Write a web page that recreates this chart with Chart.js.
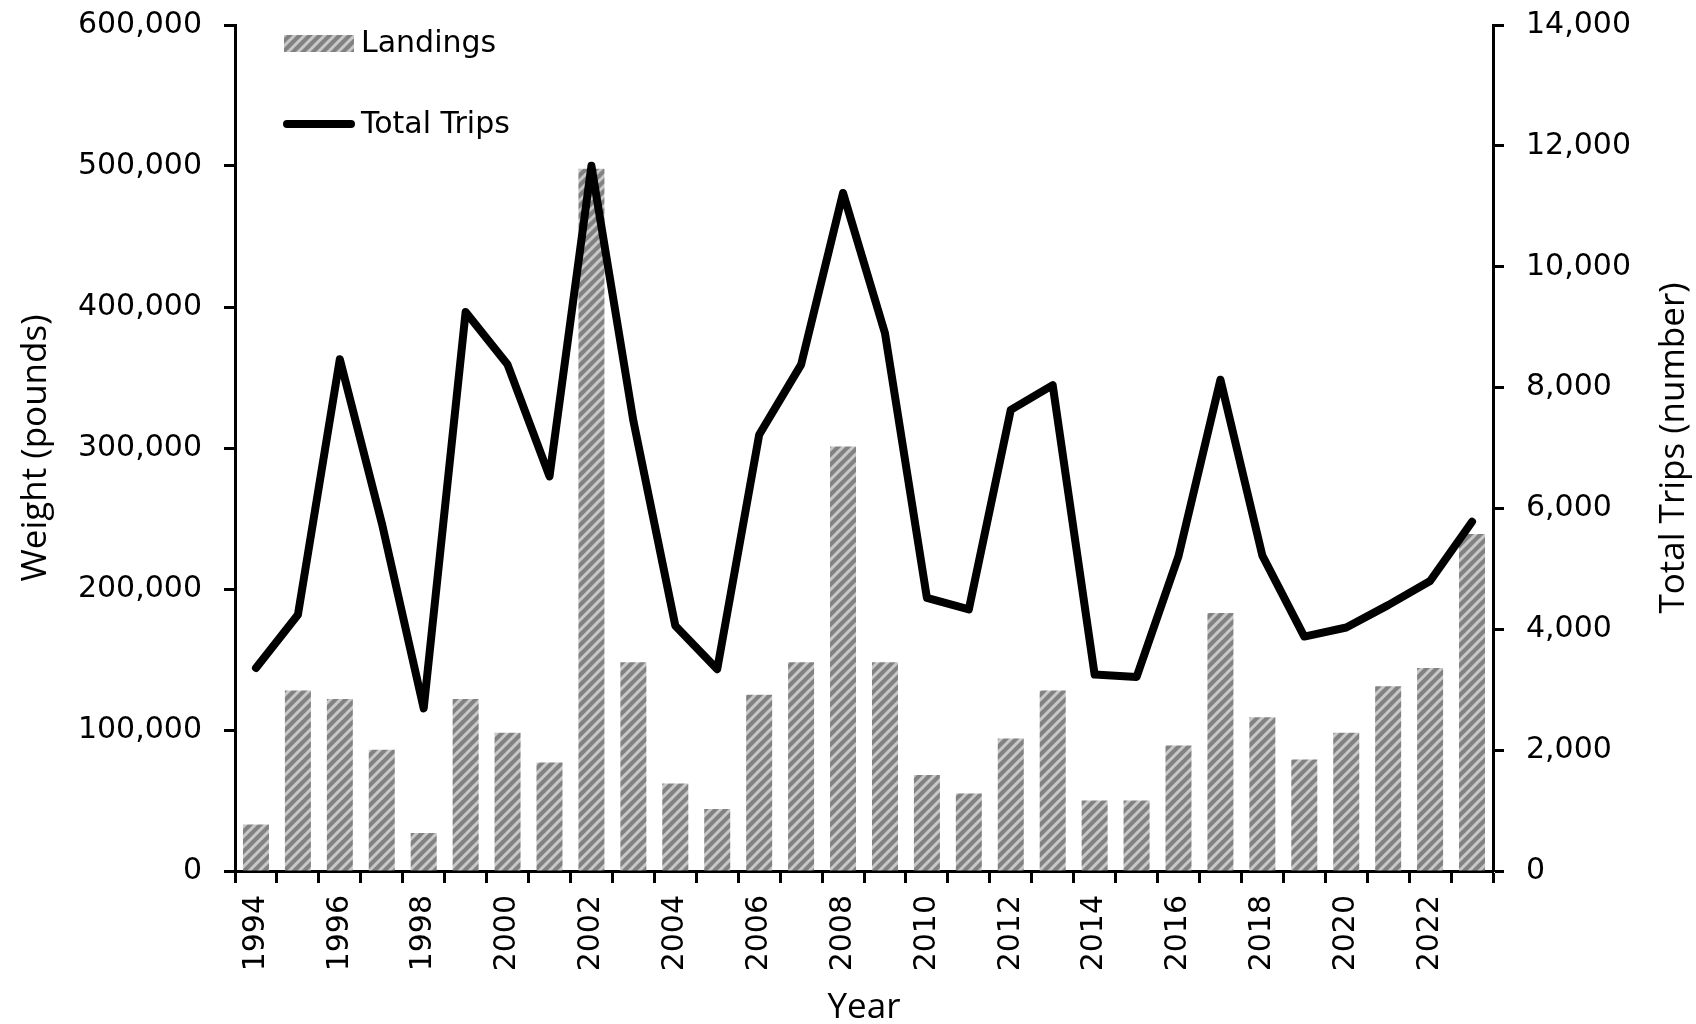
<!DOCTYPE html>
<html>
<head>
<meta charset="utf-8">
<script src="https://cdn.jsdelivr.net/npm/chart.js@4.4.1/dist/chart.umd.min.js"></script>
<style>
  html, body { margin: 0; padding: 0; background: #fff; }
</style>
</head>
<body>
<canvas id="chart" width="1696" height="1024"></canvas>
<script>
// Data
const years = ['1994','1995','1996','1997','1998','1999','2000','2001','2002','2003',
               '2004','2005','2006','2007','2008','2009','2010','2011','2012','2013',
               '2014','2015','2016','2017','2018','2019','2020','2021','2022','2023'];
const landings = [33000,128000,122000,86000,27000,122000,98000,77000,498000,148000,
                  62000,44000,125000,148000,301000,148000,68000,55000,94000,128000,
                  50000,50000,89000,183000,109000,79000,98000,131000,144000,239000];
const totalTrips = [3360,4240,8470,5760,2690,9250,8380,6530,11670,7450,
                    4060,3340,7220,8380,11220,8900,4520,4330,7630,8040,
                    3250,3210,5210,8130,5220,3880,4030,4400,4800,5780];
const weightTicks = { min: 0, max: 600000, step: 100000 };
const tripTicks = { min: 0, max: 14000, step: 2000 };

const canvas = document.getElementById('chart');
const ctx = canvas.getContext('2d');

// hatched fill for the landings bars
const tile = document.createElement('canvas');
tile.width = 10; tile.height = 10;
const t = tile.getContext('2d');
t.fillStyle = '#828282';
t.fillRect(0, 0, 10, 10);
t.strokeStyle = '#c8c8c8';
t.lineWidth = 3;
t.beginPath();
t.moveTo(-5, 5); t.lineTo(5, -5);
t.moveTo(0, 10); t.lineTo(10, 0);
t.moveTo(5, 15); t.lineTo(15, 5);
t.stroke();
const hatch = ctx.createPattern(tile, 'repeat');

const fmt = v => Number(v).toLocaleString('en-US');

Chart.defaults.font.family = '"DejaVu Sans", Verdana, sans-serif';
Chart.defaults.font.size = 30;
Chart.defaults.color = '#000';

const titleFont = { family: '"Open Sans", sans-serif', size: 35 };

// legend inside the plot area (top-left) and the right axis title reading upward
const extras = {
    id: 'extras',
    afterDraw(chart) {
        const c = chart.ctx;
        const a = chart.chartArea;
        const x = a.left + 49;
        c.save();
        c.fillStyle = hatch;
        c.fillRect(x, a.top + 10, 70, 17);
        c.strokeStyle = '#000';
        c.lineWidth = 8;
        c.lineCap = 'round';
        c.beginPath();
        c.moveTo(x + 3, a.top + 99);
        c.lineTo(x + 67, a.top + 99);
        c.stroke();
        c.fillStyle = '#000';
        c.font = '30px "DejaVu Sans"';
        c.textBaseline = 'middle';
        c.fillText('Landings', x + 77, a.top + 19);
        c.fillText('Total Trips', x + 77, a.top + 100);

        c.font = '35px "Open Sans"';
        c.textAlign = 'center';
        c.translate(chart.width - 22, (a.top + a.bottom) / 2);
        c.rotate(-Math.PI / 2);
        c.fillText('Total Trips (number)', 0, 0);
        c.restore();
    }
};

new Chart(ctx, {
    type: 'bar',
    data: {
        labels: years,
        datasets: [
            {
                type: 'line',
                label: 'Total Trips',
                data: totalTrips,
                yAxisID: 'y1',
                borderColor: '#000',
                borderWidth: 8,
                borderCapStyle: 'round',
                borderJoinStyle: 'round',
                pointRadius: 0,
                tension: 0,
                order: 0
            },
            {
                label: 'Landings',
                data: landings,
                yAxisID: 'y',
                backgroundColor: hatch,
                borderWidth: 0,
                barPercentage: 0.62,
                categoryPercentage: 1,
                order: 1
            }
        ]
    },
    options: {
        responsive: false,
        animation: false,
        layout: { padding: { top: 25, left: 0, right: 0, bottom: 0 } },
        plugins: {
            legend: { display: false },
            tooltip: { enabled: false }
        },
        scales: {
            x: {
                offset: true,
                grid: { offset: true, drawOnChartArea: false, tickLength: 12, tickWidth: 3, tickColor: '#000' },
                border: { color: '#000', width: 3 },
                ticks: {
                    autoSkip: false,
                    minRotation: 90,
                    maxRotation: 90,
                    padding: 12,
                    callback: function (v, i) { return i % 2 === 0 ? this.getLabelForValue(v) : ''; }
                },
                title: { display: true, text: 'Year', font: titleFont, padding: { top: 0, bottom: -5 } },
                afterFit: s => { s.height = 153; }
            },
            y: {
                position: 'left',
                min: weightTicks.min,
                max: weightTicks.max,
                grid: { drawOnChartArea: false, tickLength: 11, tickWidth: 3, tickColor: '#000' },
                border: { color: '#000', width: 3 },
                ticks: { stepSize: weightTicks.step, padding: 22, callback: fmt },
                title: { display: true, text: 'Weight (pounds)', font: titleFont, padding: { top: 15, bottom: 0 } },
                afterFit: s => { s.width = 235; s.paddingTop = 10; s.paddingBottom = 0; }
            },
            y1: {
                position: 'right',
                min: tripTicks.min,
                max: tripTicks.max,
                grid: { drawOnChartArea: false, tickLength: 11, tickWidth: 3, tickColor: '#000' },
                border: { color: '#000', width: 3 },
                ticks: { stepSize: tripTicks.step, padding: 22, callback: fmt },
                afterFit: s => { s.width = 203; s.paddingTop = 10; s.paddingBottom = 0; }
            }
        }
    },
    plugins: [extras]
});
</script>
</body>
</html>
